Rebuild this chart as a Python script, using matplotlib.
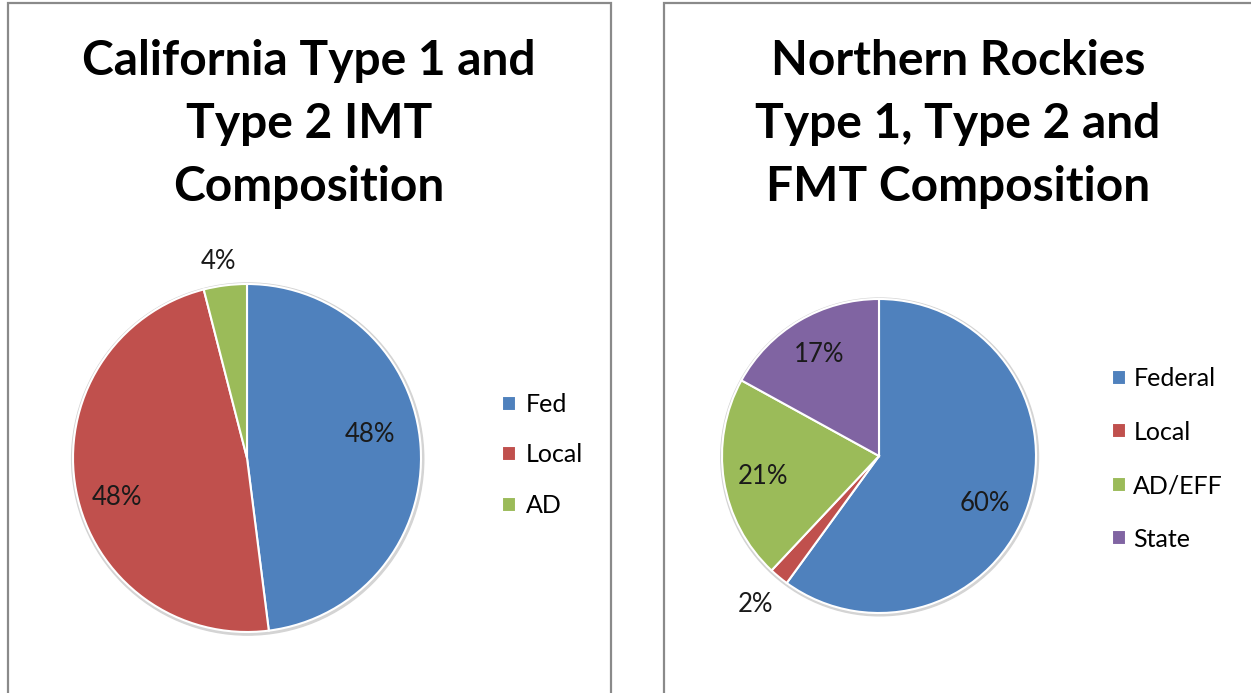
import matplotlib.pyplot as plt
from matplotlib.patches import Rectangle, Circle
import numpy as np

plt.rcParams['font.family'] = ['Lato', 'DejaVu Sans']

# left chart
ca_title = "California Type 1 and\nType 2 IMT\nComposition"
ca_names = ['Fed', 'Local', 'AD']
ca_values = [48, 48, 4]
ca_labels = ['48%', '48%', '4%']

# right chart
nr_title = "Northern Rockies\nType 1, Type 2 and\nFMT Composition"
nr_names = ['Federal', 'Local', 'AD/EFF', 'State']
nr_values = [60, 2, 21, 17]
nr_labels = ['60%', '2%', '21%', '17%']

COLORS = ['#4F81BD', '#C0504D', '#9BBB59', '#8064A2']
W, H = 1251, 693


def px_box(cx, cy, r):
    return [(cx - r) / W, 1 - (cy + r) / H, 2 * r / W, 2 * r / H]


def draw_pie(ax, values, labels, dists, shifts):
    # faint shadow ring like the Excel default
    ax.add_patch(Circle((0.004, -0.006), 1.012, color='#d4d4d4', zorder=0))
    wedges, _ = ax.pie(values, colors=COLORS[:len(values)], startangle=90,
                       counterclock=False, radius=1,
                       wedgeprops=dict(edgecolor='white', linewidth=1.5, zorder=1))
    for w, lab, d, s in zip(wedges, labels, dists, shifts):
        ang = np.deg2rad((w.theta1 + w.theta2) / 2 + s)
        ax.text(d * np.cos(ang), d * np.sin(ang), lab, ha='center', va='center',
                fontsize=18.5, color='#1a1a1a', zorder=3)
    ax.set_xlim(-1.05, 1.05)
    ax.set_ylim(-1.05, 1.05)
    ax.set_aspect('equal')
    ax.axis('off')
    return wedges


fig = plt.figure(figsize=(W / 100, H / 100), dpi=100)
fig.patches.append(Rectangle((8 / W, -0.1), 603 / W, 1.1 - 3 / H, transform=fig.transFigure,
                             fill=False, edgecolor='#8a8a8a', linewidth=1.6))
fig.patches.append(Rectangle((664 / W, -0.1), 0.5, 1.1 - 3 / H, transform=fig.transFigure,
                             fill=False, edgecolor='#8a8a8a', linewidth=1.6))

ax1 = fig.add_axes(px_box(247, 458, 174 * 1.05))
w1 = draw_pie(ax1, ca_values, ca_labels, [0.72, 0.78, 1.14], [7, 6, 1])
fig.text(309 / W, 1 - 124 / H, ca_title, ha='center', va='center', fontsize=34.5,
         fontweight='bold', linespacing=1.52)
fig.legend(w1, ca_names, loc='center left', bbox_to_anchor=(502 / W, 1 - 455 / H),
           frameon=False, fontsize=18, handlelength=0.55, handleheight=0.55,
           handletextpad=0.42, labelspacing=1.1, borderpad=0, borderaxespad=0)

ax2 = fig.add_axes(px_box(879, 456, 157 * 1.05))
w2 = draw_pie(ax2, nr_values, nr_labels, [0.74, 1.23, 0.75, 0.75], [-6, 0, 1, 0])
fig.text(958 / W, 1 - 124 / H, nr_title, ha='center', va='center', fontsize=34.5,
         fontweight='bold', linespacing=1.52)
fig.legend(w2, nr_names, loc='center left', bbox_to_anchor=(1112 / W, 1 - 459 / H),
           frameon=False, fontsize=18, handlelength=0.55, handleheight=0.55,
           handletextpad=0.3, labelspacing=1.22, borderpad=0, borderaxespad=0)

fig.savefig('out.png', dpi=100)
